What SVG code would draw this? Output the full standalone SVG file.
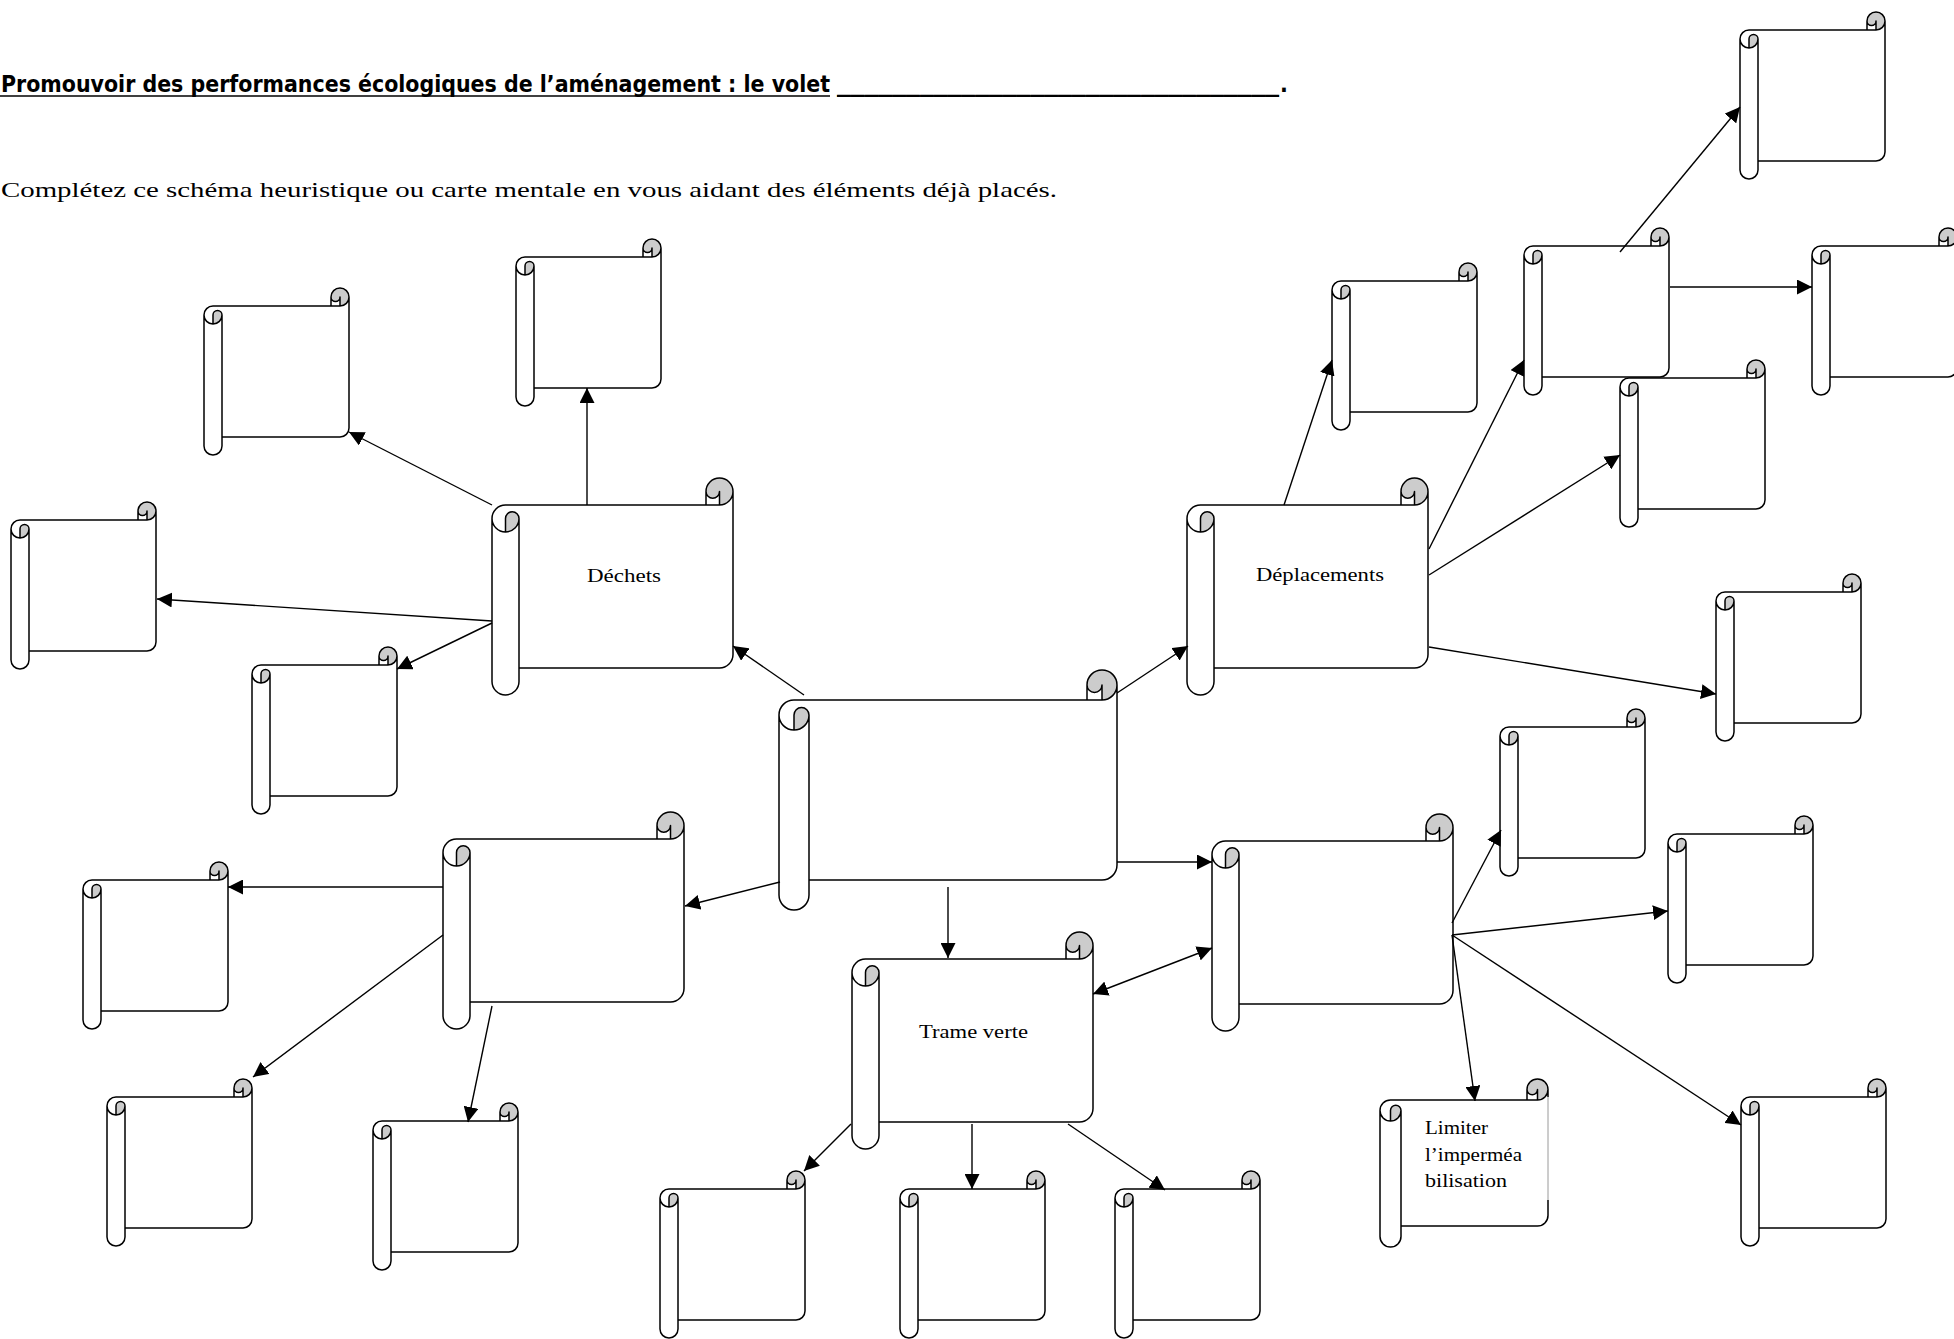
<svg xmlns="http://www.w3.org/2000/svg" xmlns:xlink="http://www.w3.org/1999/xlink" width="1954" height="1339" viewBox="0 0 1954 1339">
<style>
.sf{fill:#ffffff;stroke:none}
.sg{fill:#cccccc;stroke:none}
.ss{fill:none;stroke:#000000;stroke-width:1.5;stroke-linejoin:round}
.lbl{font-family:"Liberation Serif","DejaVu Serif",serif;font-size:19px;fill:#000000}
.ttl{font-family:"Liberation Sans Narrow","DejaVu Sans Condensed","Liberation Sans",sans-serif;font-weight:bold;font-size:23px;fill:#000000}
.sub{font-family:"Liberation Serif","DejaVu Serif",serif;font-size:21px;fill:#000000}
.cn{fill:none;stroke:#000000;stroke-width:1.4}
.ul{stroke:#000000;stroke-width:1.6}
</style>
<defs>
<marker id="ah" viewBox="0 0 15 15" refX="15" refY="7.5" markerWidth="15" markerHeight="15" markerUnits="userSpaceOnUse" orient="auto-start-reverse"><path d="M0,0 L15,7.5 L0,15 Z" fill="#000000"/></marker>
<g id="scroll-s">
<path class="sf" d="M0,27 A9 9 0 0 1 9,18 L127,18 L127,9 A9 9 0 0 1 145,9 L145,140 A9 9 0 0 1 136,149 L18,149 L18,158 A9 9 0 0 1 0,158 Z"/>
<path class="sg" d="M136,18 A9 9 0 1 0 127,9 A4.5 4.5 0 0 0 136,9 Z M9,36 A9 9 0 0 0 18,27 A4.5 4.5 0 0 0 9,27 Z"/>
<path class="ss" d="M0,27 A9 9 0 0 1 9,18 L127,18 L127,9 A9 9 0 0 1 145,9 L145,140 A9 9 0 0 1 136,149 L18,149 L18,158 A9 9 0 0 1 0,158 Z M127,18 L136,18 A9 9 0 0 0 145,9 M136,18 L136,9 A4.5 4.5 0 0 1 127,9 M9,36 L9,27 A4.5 4.5 0 0 1 18,27 A9 9 0 0 1 0,27 M18,27 L18,149"/>
</g>
<g id="scroll-l">
<path class="sf" d="M0,31.5 A10.5 10.5 0 0 1 10.5,21 L147,21 L147,10.5 A10.5 10.5 0 0 1 168,10.5 L168,136.5 A10.5 10.5 0 0 1 157.5,147 L21,147 L21,157.5 A10.5 10.5 0 0 1 0,157.5 Z"/>
<path class="sg" d="M157.5,21 A10.5 10.5 0 1 0 147,10.5 A5.25 5.25 0 0 0 157.5,10.5 Z M10.5,42 A10.5 10.5 0 0 0 21,31.5 A5.25 5.25 0 0 0 10.5,31.5 Z"/>
<path class="ss" d="M0,31.5 A10.5 10.5 0 0 1 10.5,21 L147,21 L147,10.5 A10.5 10.5 0 0 1 168,10.5 L168,136.5 A10.5 10.5 0 0 1 157.5,147 L21,147 L21,157.5 A10.5 10.5 0 0 1 0,157.5 Z M147,21 L157.5,21 A10.5 10.5 0 0 0 168,10.5 M157.5,21 L157.5,10.5 A5.25 5.25 0 0 1 147,10.5 M10.5,42 L10.5,31.5 A5.25 5.25 0 0 1 21,31.5 A10.5 10.5 0 0 1 0,31.5 M21,31.5 L21,147"/>
</g>
<g id="scroll-m">
<path class="sf" d="M0,40.5 A13.5 13.5 0 0 1 13.5,27 L214,27 L214,13.5 A13.5 13.5 0 0 1 241,13.5 L241,176.5 A13.5 13.5 0 0 1 227.5,190 L27,190 L27,203.5 A13.5 13.5 0 0 1 0,203.5 Z"/>
<path class="sg" d="M227.5,27 A13.5 13.5 0 1 0 214,13.5 A6.75 6.75 0 0 0 227.5,13.5 Z M13.5,54 A13.5 13.5 0 0 0 27,40.5 A6.75 6.75 0 0 0 13.5,40.5 Z"/>
<path class="ss" d="M0,40.5 A13.5 13.5 0 0 1 13.5,27 L214,27 L214,13.5 A13.5 13.5 0 0 1 241,13.5 L241,176.5 A13.5 13.5 0 0 1 227.5,190 L27,190 L27,203.5 A13.5 13.5 0 0 1 0,203.5 Z M214,27 L227.5,27 A13.5 13.5 0 0 0 241,13.5 M227.5,27 L227.5,13.5 A6.75 6.75 0 0 1 214,13.5 M13.5,54 L13.5,40.5 A6.75 6.75 0 0 1 27,40.5 A13.5 13.5 0 0 1 0,40.5 M27,40.5 L27,190"/>
</g>
<g id="scroll-c">
<path class="sf" d="M0,45 A15 15 0 0 1 15,30 L308,30 L308,15 A15 15 0 0 1 338,15 L338,195 A15 15 0 0 1 323,210 L30,210 L30,225 A15 15 0 0 1 0,225 Z"/>
<path class="sg" d="M323,30 A15 15 0 1 0 308,15 A7.5 7.5 0 0 0 323,15 Z M15,60 A15 15 0 0 0 30,45 A7.5 7.5 0 0 0 15,45 Z"/>
<path class="ss" d="M0,45 A15 15 0 0 1 15,30 L308,30 L308,15 A15 15 0 0 1 338,15 L338,195 A15 15 0 0 1 323,210 L30,210 L30,225 A15 15 0 0 1 0,225 Z M308,30 L323,30 A15 15 0 0 0 338,15 M323,30 L323,15 A7.5 7.5 0 0 1 308,15 M15,60 L15,45 A7.5 7.5 0 0 1 30,45 A15 15 0 0 1 0,45 M30,45 L30,210"/>
</g>
</defs>
<rect x="0" y="0" width="1954" height="1339" fill="#ffffff"/>
<g id="title">
<text class="ttl" x="1" y="92" textLength="829" lengthAdjust="spacingAndGlyphs">Promouvoir des performances écologiques de l’aménagement : le volet</text>
<line class="ul" x1="0" y1="96" x2="830" y2="96"/>
<text class="ttl" x="837" y="92" textLength="442" lengthAdjust="spacingAndGlyphs">________________________________</text>
<line class="ul" x1="837" y1="96" x2="1279" y2="96"/>
<text class="ttl" x="1280" y="92">.</text>
</g>
<g id="instructions">
<text class="sub" x="1" y="197" textLength="1056" lengthAdjust="spacingAndGlyphs">Complétez ce schéma heuristique ou carte mentale en vous aidant des éléments déjà placés.</text>
</g>
<g id="nodes">
<g id="node-central"><use xlink:href="#scroll-c" x="779" y="670"/></g>
<g id="node-dechets"><use xlink:href="#scroll-m" x="492" y="478"/><text class="lbl" x="587" y="582" textLength="74" lengthAdjust="spacingAndGlyphs">Déchets</text></g>
<g id="node-deplacements"><use xlink:href="#scroll-m" x="1187" y="478"/><text class="lbl" x="1256" y="581" textLength="128" lengthAdjust="spacingAndGlyphs">Déplacements</text></g>
<g id="node-left"><use xlink:href="#scroll-m" x="443" y="812"/></g>
<g id="node-trame"><use xlink:href="#scroll-m" x="852" y="932"/><text class="lbl" x="919" y="1038" textLength="109" lengthAdjust="spacingAndGlyphs">Trame verte</text></g>
<g id="node-right"><use xlink:href="#scroll-m" x="1212" y="814"/></g>
<g id="node-a"><use xlink:href="#scroll-s" x="204" y="288"/></g>
<g id="node-b"><use xlink:href="#scroll-s" x="516" y="239"/></g>
<g id="node-c"><use xlink:href="#scroll-s" x="11" y="502"/></g>
<g id="node-d"><use xlink:href="#scroll-s" x="252" y="647"/></g>
<g id="node-e"><use xlink:href="#scroll-s" x="83" y="862"/></g>
<g id="node-f"><use xlink:href="#scroll-s" x="107" y="1079"/></g>
<g id="node-g"><use xlink:href="#scroll-s" x="373" y="1103"/></g>
<g id="node-h"><use xlink:href="#scroll-s" x="660" y="1171"/></g>
<g id="node-i"><use xlink:href="#scroll-s" x="900" y="1171"/></g>
<g id="node-j"><use xlink:href="#scroll-s" x="1115" y="1171"/></g>
<g id="node-k"><use xlink:href="#scroll-s" x="1332" y="263"/></g>
<g id="node-l"><use xlink:href="#scroll-s" x="1524" y="228"/></g>
<g id="node-m"><use xlink:href="#scroll-s" x="1740" y="12"/></g>
<g id="node-n"><use xlink:href="#scroll-s" x="1812" y="228"/></g>
<g id="node-o"><use xlink:href="#scroll-s" x="1620" y="360"/></g>
<g id="node-p"><use xlink:href="#scroll-s" x="1716" y="574"/></g>
<g id="node-q"><use xlink:href="#scroll-s" x="1500" y="709"/></g>
<g id="node-r"><use xlink:href="#scroll-s" x="1668" y="816"/></g>
<g id="node-s"><use xlink:href="#scroll-s" x="1741" y="1079"/></g>
<g id="node-limiter"><use xlink:href="#scroll-l" x="1380" y="1079"/>
<rect x="1546" y="1097" width="4" height="103" fill="#ffffff"/>
<line x1="1548" y1="1097" x2="1548" y2="1200" stroke="#9a9a9a" stroke-width="1"/>
<text class="lbl" font-size="18" x="1425" y="1134" textLength="63" lengthAdjust="spacingAndGlyphs">Limiter</text>
<text class="lbl" font-size="18" x="1425" y="1161" textLength="97" lengthAdjust="spacingAndGlyphs">l’imperméa</text>
<text class="lbl" font-size="18" x="1425" y="1187" textLength="82" lengthAdjust="spacingAndGlyphs">bilisation</text>
</g>
</g>
<g id="connectors" class="cn" marker-end="url(#ah)">
<path d="M587,505 L587,388"/>
<path d="M492,505 L349,432"/>
<path d="M492,621 L157,599"/>
<path d="M492,623 L397,669"/>
<path d="M804,695 L733,646"/>
<path d="M1117,693 L1188,646"/>
<path d="M1117,862 L1212,862"/>
<path d="M948,887 L948,958"/>
<path d="M780,882 L685,906"/>
<path d="M443,887 L228,887"/>
<path d="M443,935 L253,1077"/>
<path d="M492,1006 L468,1122"/>
<path d="M851,1124 L804,1171"/>
<path d="M972,1124 L972,1189"/>
<path d="M1068,1124 L1165,1190"/>
<path d="M1093,994 L1212,948" marker-start="url(#ah)"/>
<path d="M1452,923 L1501,830"/>
<path d="M1452,935 L1668,911"/>
<path d="M1452,935 L1741,1125"/>
<path d="M1452,935 L1475,1101"/>
<path d="M1284,505 L1332,360"/>
<path d="M1429,549 L1524,360"/>
<path d="M1429,575 L1620,455"/>
<path d="M1429,647 L1716,694"/>
<path d="M1620,252 L1740,107"/>
<path d="M1670,287 L1812,287"/>
</g>
</svg>
